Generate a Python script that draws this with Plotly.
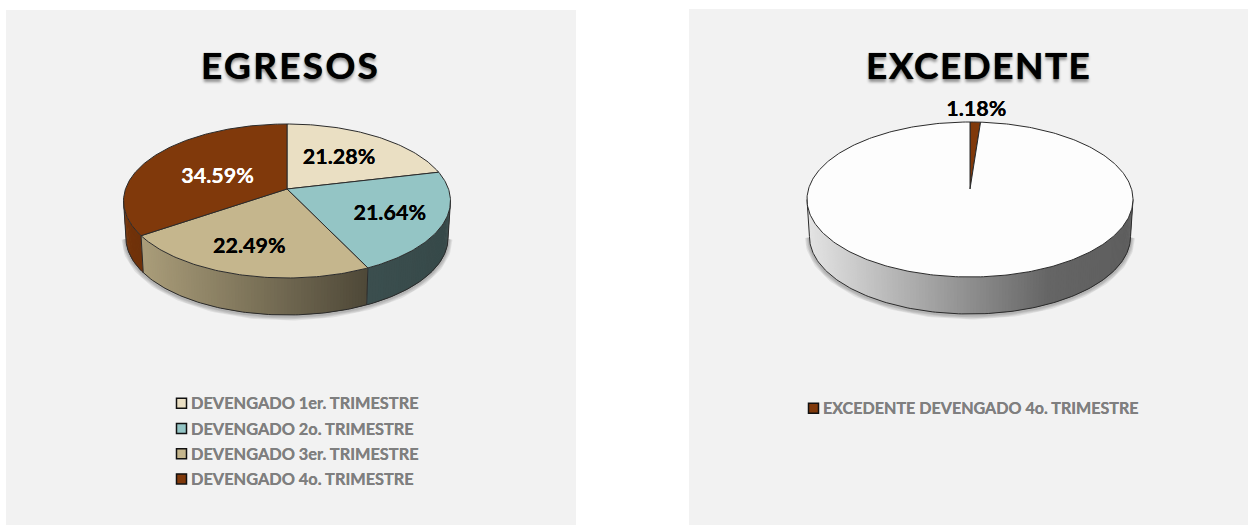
import numpy as np
import plotly.graph_objects as go

# ---- data ----
egresos_title = "EGRESOS"
egresos_labels = ["DEVENGADO 1er. TRIMESTRE", "DEVENGADO 2o. TRIMESTRE",
                  "DEVENGADO 3er. TRIMESTRE", "DEVENGADO 4o. TRIMESTRE"]
egresos_values = [21.28, 21.64, 22.49, 34.59]
egresos_colors = ["#EADFC3", "#94C5C5", "#C5B68D", "#80390B"]
egresos_text_colors = ["#000000", "#000000", "#000000", "#FFFFFF"]

excedente_title = "EXCEDENTE"
excedente_labels = ["EXCEDENTE DEVENGADO 4o. TRIMESTRE", ""]
excedente_values = [1.18, 98.82]
excedente_colors = ["#80390B", "#FDFDFD"]
excedente_text_colors = ["#000000", None]

# ---- style / layout ----
W, H = 1248, 525
PANEL = "#F2F2F2"
TITLE_SHADOW = "0px 0px 0.8px #000, 0px 3px 3px rgba(0,0,0,0.4)"
EDGE = "#2b2b2b"


class Pie:
    """Perspective projection of a unit disc onto the page (pixels)."""

    def __init__(self, ax, ay, far, near, half_w, depth, base_scale=0.985):
        self.ax, self.ay, self.depth, self.base_scale = ax, ay, depth, base_scale
        self.k = (near - far) / (near + far)
        self.B = far * (1 + self.k)
        self.A = half_w * np.sqrt(1 - self.k ** 2)

    def project(self, theta, r=1.0):
        theta = np.asarray(theta, dtype=float)
        u, v = r * np.sin(theta), r * np.cos(theta)
        d = 1 + self.k * v
        return self.ax + self.A * u / d, self.ay - self.B * v / d

    def project_base(self, theta, extra=0.0):
        x, y = self.project(theta)
        return self.ax + (x - self.ax) * self.base_scale, y + self.depth + extra


def shade(color, f):
    c = [int(color[i:i + 2], 16) for i in (1, 3, 5)]
    return "rgb({},{},{})".format(*[int(round(x * f)) for x in c])


def side_factor(frac):
    return float(np.interp(frac, [0, 0.74, 1], [0.90, 0.40, 0.37]))


def add_poly(fig, x, y, fill, line="rgba(0,0,0,0)", lw=0):
    fig.add_trace(go.Scatter(x=list(x), y=list(y), mode="lines", fill="toself",
                             fillcolor=fill, line=dict(color=line, width=lw),
                             hoverinfo="skip", showlegend=False))


def add_line(fig, x, y, color, lw):
    fig.add_trace(go.Scatter(x=list(x), y=list(y), mode="lines",
                             line=dict(color=color, width=lw),
                             hoverinfo="skip", showlegend=False))


def draw_pie(fig, pie, values, colors):
    total = sum(values)
    edges = 2 * np.pi * np.cumsum([0] + list(values)) / total
    th_r = np.arccos(-pie.k)
    th_l = 2 * np.pi - th_r
    sweep = np.linspace(th_r, th_l, 160)

    # soft shadow under the near rim
    sx, sy = pie.project_base(sweep, 1)
    for lw in (9, 7, 5, 3):
        add_line(fig, sx, sy, "rgba(0,0,0,0.07)", lw)

    xmin = pie.ax - pie.A / np.sqrt(1 - pie.k ** 2)
    span = 2 * pie.A / np.sqrt(1 - pie.k ** 2)

    # gradient-shaded side wall: each strip runs on to the slice end and the
    # next strip paints over it, so no seams show
    for i, c in enumerate(colors):
        a, b = max(edges[i], th_r), min(edges[i + 1], th_l)
        if b <= a:
            continue
        n = max(2, int((b - a) / np.radians(1.0)))
        ts = np.linspace(a, b, n + 1)
        for j in range(n):
            t0, t1 = ts[j], ts[min(j + 2, n)]
            seg = np.linspace(t0, t1, 5)
            xt, yt = pie.project(seg)
            xb, yb = pie.project_base(seg[::-1])
            xm = pie.project((ts[j] + ts[j + 1]) / 2)[0]
            col = shade(c, side_factor((xm - xmin) / span))
            add_poly(fig, np.r_[xt, xb, xt[0]], np.r_[yt, yb, yt[0]], col)

    # side wall outline
    bx, by = pie.project_base(sweep)
    add_line(fig, bx, by, EDGE, 1)
    for t in (th_r, th_l):
        x0, y0 = pie.project(t)
        x1, y1 = pie.project_base(t)
        add_line(fig, [x0, x1], [y0, y1], EDGE, 1)
    for e in edges[:-1]:
        if th_r < e < th_l:
            x0, y0 = pie.project(e)
            x1, y1 = pie.project_base(e)
            add_line(fig, [x0, x1], [y0, y1], EDGE, 1)

    # top faces
    for i, c in enumerate(colors):
        seg = np.linspace(edges[i], edges[i + 1], max(3, int((edges[i + 1] - edges[i]) * 60)))
        x, y = pie.project(seg)
        add_poly(fig, np.r_[pie.ax, x, pie.ax], np.r_[pie.ay, y, pie.ay], c, EDGE, 1)
    return edges


def add_slice_labels(fig, pie, values, edges, radii, nudges, colors, size):
    for i, v in enumerate(values):
        if radii[i] is None:
            continue
        x, y = pie.project((edges[i] + edges[i + 1]) / 2, r=radii[i])
        fig.add_trace(go.Scatter(
            x=[float(x) + nudges[i][0]], y=[float(y) + nudges[i][1]], mode="text",
            text=[f"{v:.2f}%"], textposition="middle center",
            textfont=dict(family="Lato", size=size, color=colors[i], weight="bold",
                          shadow=f"0px 0px 0.6px {colors[i]}"),
            hoverinfo="skip", showlegend=False))


def add_key(fig, labels, colors, x, y0, step, size):
    ys = [y0 + step * i for i in range(len(labels))]
    fig.add_trace(go.Scatter(
        x=[x] * len(labels), y=ys, mode="markers",
        marker=dict(symbol="square", size=10, color=colors, line=dict(color="#111111", width=1.5)),
        hoverinfo="skip", showlegend=False))
    fig.add_trace(go.Scatter(
        x=[x + 9.5] * len(labels), y=[v + 2 for v in ys], mode="text", text=labels,
        textposition="middle right",
        textfont=dict(family="Lato", size=size, color="#7F7F7F", weight="bold",
                      shadow="0px 0px 0.5px #7F7F7F"),
        hoverinfo="skip", showlegend=False))


fig = go.Figure()

pie_a = Pie(287, 189, 65, 89, 163.5, 37)
pie_b = Pie(970, 189, 67, 88, 163, 37)

edges_a = draw_pie(fig, pie_a, egresos_values, egresos_colors)
edges_b = draw_pie(fig, pie_b, excedente_values, excedente_colors)

add_slice_labels(fig, pie_a, egresos_values, edges_a, [0.55, 0.67, 0.70, 0.50],
                 [(0.5, 0), (0.5, 3), (-5, 2), (-0.5, 5)], egresos_text_colors, 21.5)
add_slice_labels(fig, pie_b, excedente_values, edges_b, [1.24, None],
                 [(0, 2), (0, 0)], excedente_text_colors, 21.5)

add_key(fig, egresos_labels, egresos_colors, 181.5, 403.3, 25.2, 16.35)
add_key(fig, excedente_labels[:1], excedente_colors[:1], 813.5, 408.3, 25.2, 16.1)

annotations = [
    dict(x=x, y=64.5, xref="x", yref="y", showarrow=False, xanchor="center", yanchor="middle",
         text=f'<span style="letter-spacing:{sp}px">{t}</span>',
         font=dict(family="Lato", size=37, color="#000000", weight="bold", shadow=TITLE_SHADOW))
    for x, t, sp in ((290, egresos_title, 2.3), (978.5, excedente_title, 1.45))
]

shapes = [
    dict(type="rect", xref="x", yref="y", x0=6, x1=576, y0=10, y1=525,
         fillcolor=PANEL, line_width=0, layer="below"),
    dict(type="rect", xref="x", yref="y", x0=689, x1=1248, y0=9, y1=525,
         fillcolor=PANEL, line_width=0, layer="below"),
]

fig.update_layout(
    width=W, height=H, margin=dict(l=0, r=0, t=0, b=0),
    paper_bgcolor="#FFFFFF", plot_bgcolor="#FFFFFF", showlegend=False,
    xaxis=dict(range=[0, W], visible=False, fixedrange=True),
    yaxis=dict(range=[H, 0], visible=False, fixedrange=True),
    shapes=shapes, annotations=annotations,
)

fig.write_html("out.html", config={"displayModeBar": False},
               post_script="document.body.style.margin='0';")
